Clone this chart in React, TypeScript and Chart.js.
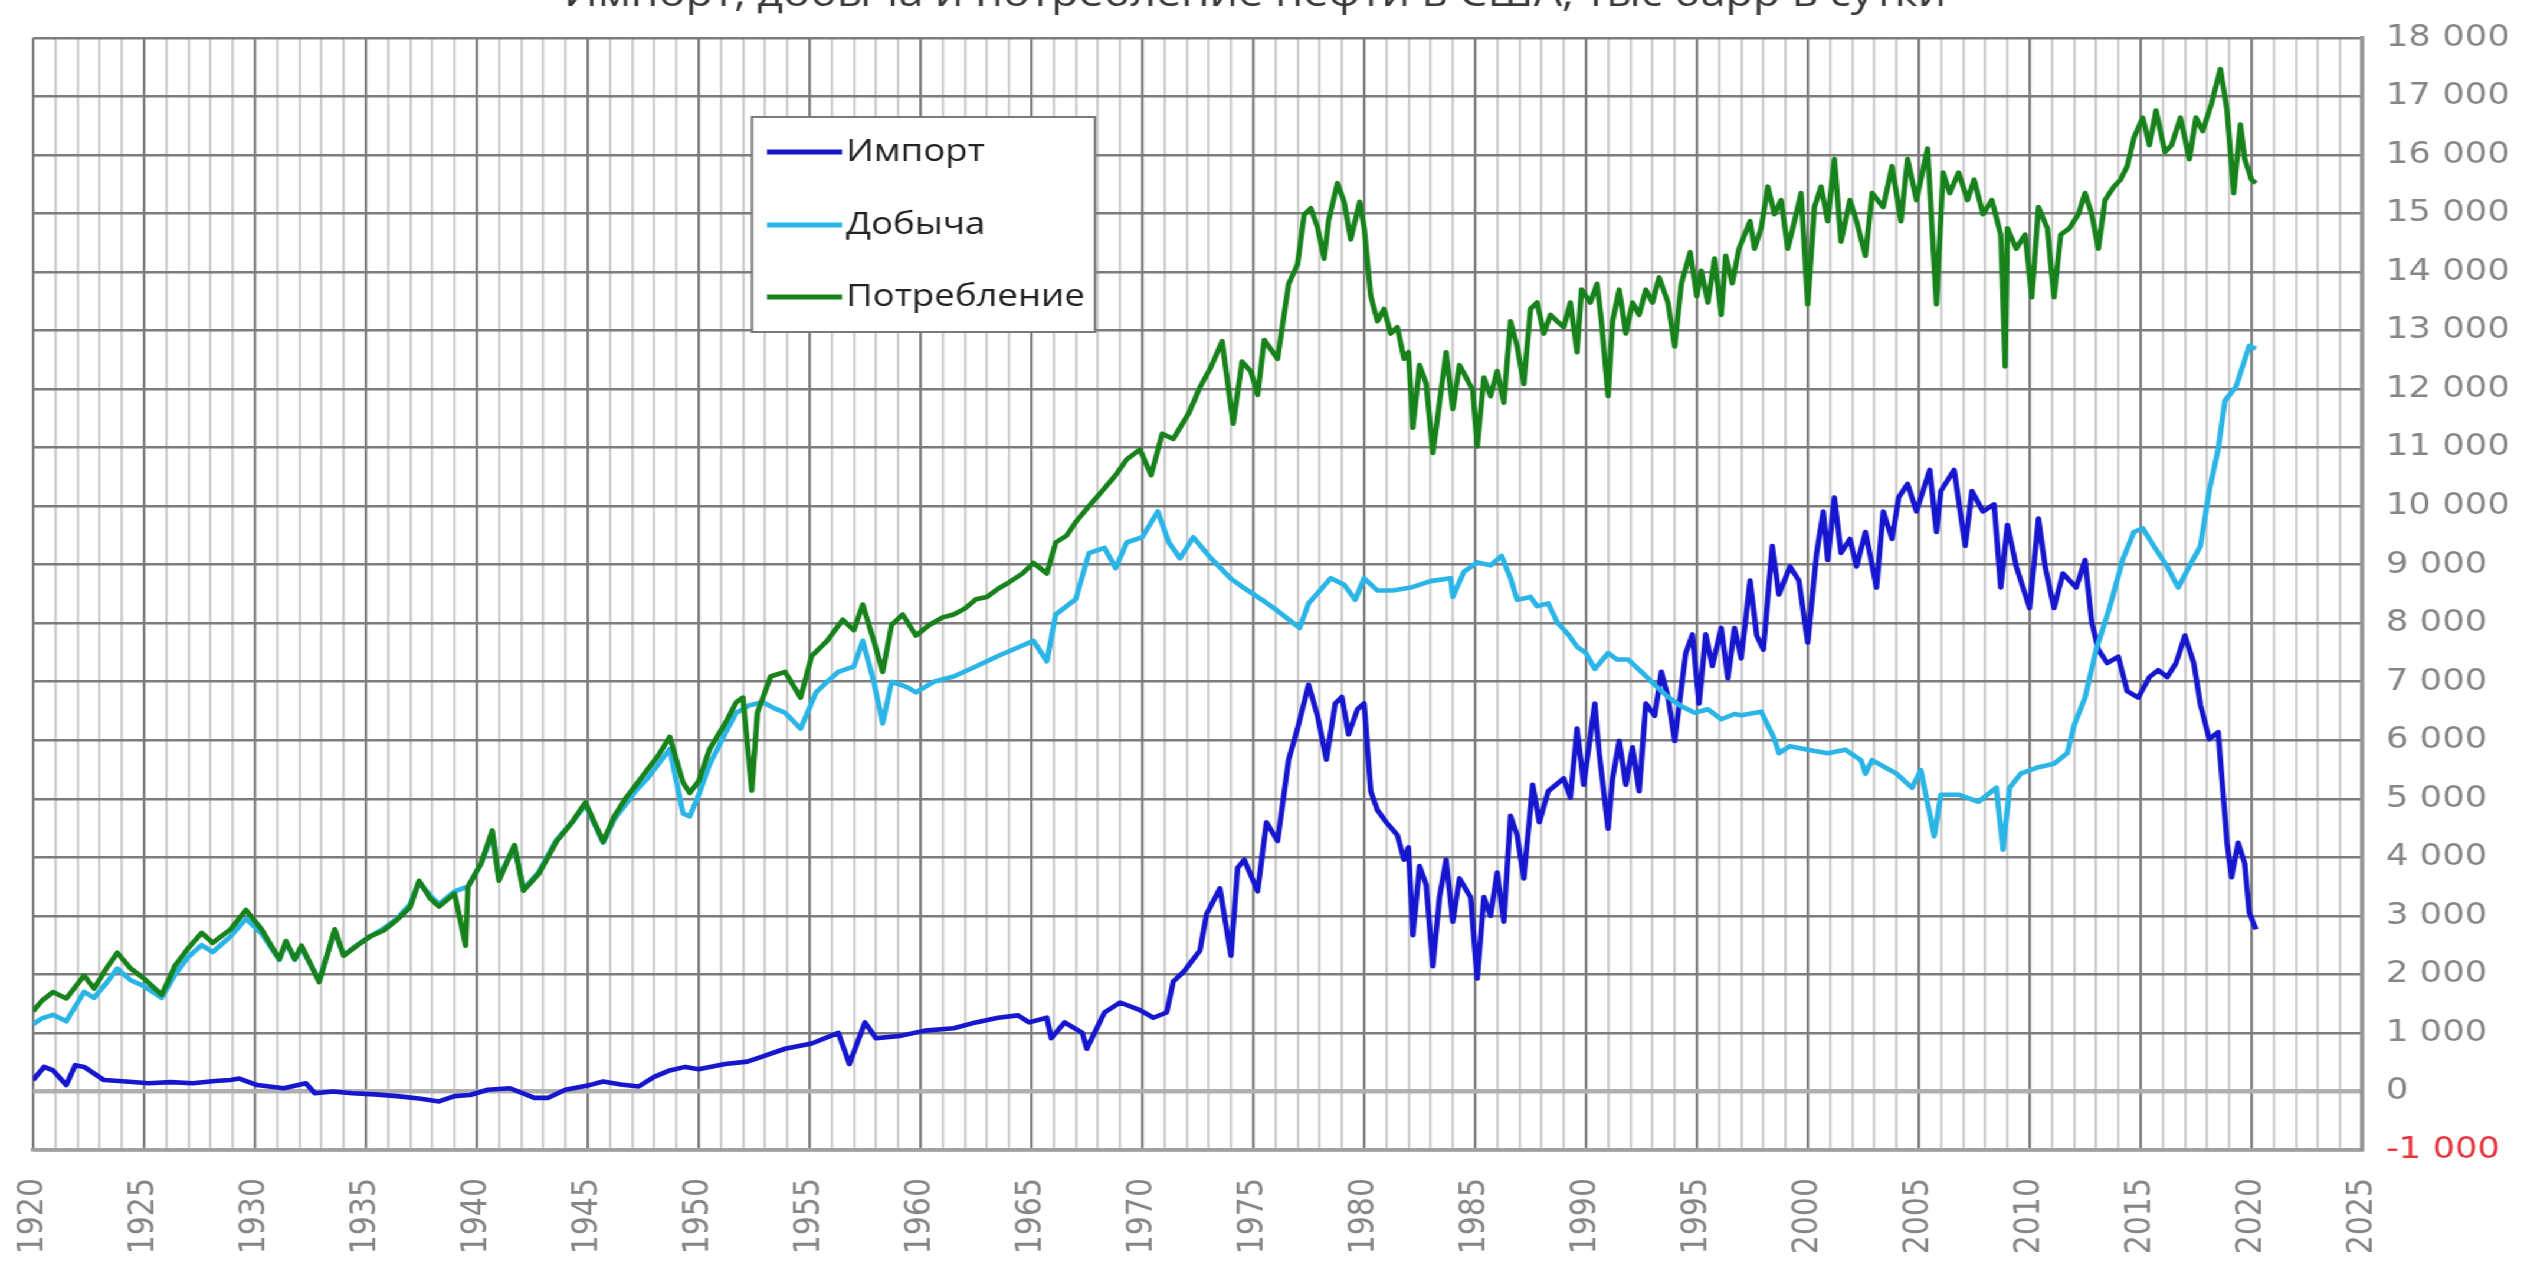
import React, { useEffect, useRef } from 'react';
import { Chart, registerables } from 'chart.js';

Chart.register(...registerables);

// ---------- data (year, thousand barrels per day) ----------
const TITLE = 'Импорт, добыча и потребление нефти в США, тыс барр в сутки';
const SERIES_NAMES = ['Импорт', 'Добыча', 'Потребление'];
const SERIES_COLORS = ['#1616cf', '#2bb5e6', '#17821b'];

const importData: [number, number][] = [
  [1920.0, 195], [1920.5, 420], [1920.9, 360], [1921.5, 110], [1921.9, 450], [1922.3, 420],
  [1923.2, 195], [1924.2, 170], [1925.2, 140], [1926.2, 160], [1927.2, 140], [1928.2, 180],
  [1928.9, 195], [1929.3, 220], [1930.1, 110], [1931.3, 55], [1932.3, 140], [1932.7, -30],
  [1933.5, 0], [1934.4, -30], [1935.4, -50], [1936.4, -80], [1937.4, -120], [1938.3, -170],
  [1939.0, -80], [1939.7, -60], [1940.5, 30], [1941.5, 55], [1942.6, -110], [1943.2, -110],
  [1944.0, 30], [1945.0, 100], [1945.7, 170], [1946.5, 120], [1947.3, 85], [1948.0, 250],
  [1948.7, 360], [1949.4, 420], [1950.0, 380], [1951.2, 470], [1952.2, 510], [1952.9, 600],
  [1953.9, 730], [1955.1, 820], [1956.3, 1000], [1956.8, 470], [1957.5, 1180], [1958.0, 910],
  [1959.1, 950], [1960.2, 1040], [1961.5, 1080], [1962.5, 1180], [1963.5, 1260], [1964.4, 1300],
  [1964.9, 1180], [1965.7, 1260], [1965.9, 910], [1966.5, 1180], [1967.3, 1000], [1967.5, 730],
  [1968.3, 1350], [1969.0, 1520], [1969.9, 1390], [1970.5, 1260], [1971.1, 1350], [1971.4, 1880],
  [1971.9, 2060], [1972.6, 2410], [1972.9, 3030], [1973.5, 3470], [1974.0, 2320], [1974.3, 3820],
  [1974.6, 3960], [1975.2, 3420], [1975.6, 4600], [1976.1, 4280], [1976.6, 5670], [1977.0, 6200],
  [1977.5, 6950], [1977.9, 6420], [1978.3, 5670], [1978.7, 6630], [1979.0, 6740], [1979.3, 6100],
  [1979.7, 6530], [1980.0, 6630], [1980.3, 5130], [1980.6, 4810], [1981.0, 4600], [1981.5, 4380],
  [1981.8, 3960], [1982.0, 4170], [1982.2, 2670], [1982.5, 3850], [1982.8, 3530], [1983.1, 2140],
  [1983.4, 3320], [1983.7, 3960], [1984.0, 2900], [1984.3, 3640], [1984.8, 3320], [1985.1, 1930],
  [1985.4, 3320], [1985.7, 3000], [1986.0, 3740], [1986.3, 2900], [1986.6, 4710], [1986.9, 4380],
  [1987.2, 3640], [1987.6, 5240], [1987.9, 4600], [1988.3, 5130], [1989.0, 5350], [1989.3, 5020],
  [1989.6, 6200], [1989.9, 5240], [1990.4, 6630], [1990.6, 5780], [1991.0, 4490], [1991.2, 5350],
  [1991.5, 5990], [1991.8, 5240], [1992.1, 5880], [1992.4, 5130], [1992.7, 6630], [1993.1, 6420],
  [1993.4, 7170], [1993.7, 6740], [1994.0, 5990], [1994.5, 7490], [1994.8, 7810], [1995.1, 6630],
  [1995.4, 7810], [1995.7, 7270], [1996.1, 7920], [1996.4, 7060], [1996.7, 7920], [1997.0, 7400],
  [1997.4, 8730], [1997.7, 7790], [1998.0, 7550], [1998.4, 9320], [1998.7, 8490], [1999.2, 8970],
  [1999.6, 8730], [2000.0, 7670], [2000.4, 9200], [2000.7, 9910], [2000.9, 9080], [2001.2, 10150],
  [2001.5, 9200], [2001.9, 9440], [2002.2, 8970], [2002.6, 9560], [2003.1, 8610], [2003.4, 9910],
  [2003.8, 9440], [2004.1, 10150], [2004.5, 10380], [2004.9, 9910], [2005.5, 10620], [2005.8, 9560],
  [2006.0, 10260], [2006.6, 10620], [2007.1, 9320], [2007.4, 10260], [2007.9, 9910], [2008.4, 10030],
  [2008.7, 8610], [2009.0, 9680], [2009.4, 8970], [2010.0, 8260], [2010.4, 9790], [2010.7, 8970],
  [2011.1, 8260], [2011.5, 8850], [2012.1, 8610], [2012.5, 9080], [2012.8, 8020], [2013.1, 7550],
  [2013.5, 7320], [2014.0, 7430], [2014.4, 6840], [2014.9, 6730], [2015.4, 7080], [2015.8, 7200],
  [2016.2, 7080], [2016.6, 7320], [2017.0, 7790], [2017.4, 7320], [2017.7, 6610], [2018.1, 6020],
  [2018.5, 6140], [2018.9, 4250], [2019.1, 3660], [2019.4, 4250], [2019.7, 3890], [2019.9, 3060],
  [2020.2, 2770],
];

const productionData: [number, number][] = [
  [1920.0, 1150], [1920.4, 1250], [1920.9, 1310], [1921.5, 1200], [1922.3, 1700], [1922.75, 1600],
  [1923.3, 1850], [1923.8, 2100], [1924.4, 1900], [1925.0, 1800], [1925.8, 1600], [1926.4, 2000],
  [1927.0, 2300], [1927.6, 2500], [1928.1, 2380], [1928.9, 2650], [1929.6, 2950], [1930.3, 2700],
  [1931.1, 2250], [1931.4, 2550], [1931.8, 2250], [1932.1, 2450], [1932.9, 1900], [1933.6, 2750],
  [1934.0, 2330], [1934.6, 2500], [1935.2, 2650], [1935.8, 2780], [1936.4, 2950], [1937.0, 3200],
  [1937.4, 3580], [1937.9, 3350], [1938.3, 3200], [1939.0, 3420], [1939.6, 3500], [1940.2, 3900],
  [1940.7, 4400], [1941.0, 3650], [1941.7, 4200], [1942.1, 3450], [1942.8, 3750], [1943.6, 4300],
  [1944.3, 4600], [1944.9, 4900], [1945.7, 4250], [1946.2, 4650], [1946.7, 4900], [1947.2, 5150],
  [1947.7, 5350], [1948.2, 5600], [1948.7, 5850], [1949.3, 4750], [1949.6, 4700], [1950.0, 5060],
  [1950.5, 5590], [1951.2, 6120], [1951.7, 6470], [1952.3, 6600], [1952.9, 6650], [1953.4, 6550],
  [1953.9, 6470], [1954.6, 6200], [1955.3, 6820], [1955.8, 7000], [1956.3, 7170], [1957.0, 7260],
  [1957.4, 7700], [1957.9, 7000], [1958.3, 6290], [1958.7, 7000], [1959.4, 6910], [1959.8, 6820],
  [1960.6, 7000], [1961.5, 7090], [1962.5, 7260], [1963.5, 7440], [1964.6, 7620], [1965.1, 7700],
  [1965.7, 7350], [1966.1, 8150], [1967.0, 8410], [1967.6, 9200], [1968.3, 9290], [1968.8, 8940],
  [1969.3, 9380], [1970.0, 9470], [1970.7, 9910], [1971.2, 9380], [1971.7, 9110], [1972.3, 9470],
  [1973.1, 9110], [1974.0, 8760], [1974.6, 8600], [1975.4, 8400], [1976.0, 8240], [1977.1, 7920],
  [1977.5, 8340], [1978.5, 8770], [1979.1, 8660], [1979.6, 8400], [1980.0, 8770], [1980.6, 8560],
  [1981.3, 8560], [1982.1, 8610], [1983.0, 8720], [1983.9, 8770], [1984.0, 8450], [1984.5, 8880],
  [1985.1, 9040], [1985.7, 8990], [1986.2, 9150], [1986.6, 8770], [1986.9, 8400], [1987.5, 8450],
  [1987.8, 8290], [1988.3, 8340], [1988.7, 8020], [1989.2, 7810], [1989.6, 7600], [1990.0, 7490],
  [1990.4, 7220], [1991.0, 7490], [1991.4, 7380], [1991.9, 7380], [1992.5, 7170], [1993.1, 6950],
  [1993.7, 6740], [1994.3, 6580], [1994.9, 6470], [1995.5, 6530], [1996.1, 6360], [1996.7, 6450],
  [1997.0, 6430], [1997.9, 6490], [1998.5, 6020], [1998.7, 5780], [1999.2, 5900], [2000.0, 5840],
  [2000.9, 5780], [2001.7, 5840], [2002.4, 5660], [2002.6, 5430], [2002.9, 5660], [2004.0, 5430],
  [2004.7, 5190], [2005.1, 5490], [2005.7, 4360], [2006.0, 5070], [2006.8, 5070], [2007.7, 4950],
  [2008.5, 5190], [2008.8, 4130], [2009.1, 5190], [2009.6, 5430], [2010.4, 5540], [2011.1, 5600],
  [2011.7, 5780], [2012.0, 6250], [2012.5, 6730], [2013.0, 7550], [2013.6, 8260], [2014.2, 9090],
  [2014.7, 9560], [2015.1, 9620], [2015.6, 9320], [2016.2, 8970], [2016.7, 8610], [2017.2, 8970],
  [2017.7, 9320], [2018.1, 10270], [2018.5, 10970], [2018.8, 11800], [2019.3, 12040], [2019.6, 12390],
  [2019.9, 12740], [2020.2, 12690],
];

const consumptionData: [number, number][] = [
  [1920.0, 1370], [1920.4, 1550], [1920.9, 1700], [1921.5, 1590], [1922.3, 1980], [1922.75, 1760],
  [1923.3, 2100], [1923.8, 2370], [1924.4, 2100], [1925.0, 1930], [1925.8, 1650], [1926.4, 2150],
  [1927.0, 2450], [1927.6, 2710], [1928.1, 2540], [1928.9, 2770], [1929.6, 3100], [1930.3, 2770],
  [1931.1, 2260], [1931.4, 2570], [1931.8, 2260], [1932.1, 2490], [1932.9, 1870], [1933.6, 2770],
  [1934.0, 2320], [1934.6, 2490], [1935.2, 2650], [1935.8, 2750], [1936.4, 2930], [1937.0, 3150],
  [1937.4, 3600], [1937.9, 3300], [1938.3, 3160], [1939.0, 3380], [1939.5, 2490], [1939.6, 3490],
  [1940.2, 3900], [1940.7, 4460], [1941.0, 3600], [1941.7, 4210], [1942.1, 3430], [1942.8, 3720],
  [1943.6, 4270], [1944.3, 4600], [1944.9, 4940], [1945.7, 4270], [1946.2, 4700], [1946.7, 5000],
  [1947.2, 5250], [1947.7, 5500], [1948.2, 5750], [1948.7, 6060], [1949.3, 5280], [1949.6, 5100],
  [1950.0, 5300], [1950.5, 5850], [1951.2, 6290], [1951.7, 6650], [1952.0, 6730], [1952.4, 5140],
  [1952.65, 6470], [1953.25, 7090], [1953.9, 7170], [1954.6, 6730], [1955.1, 7440], [1955.8, 7700],
  [1956.5, 8060], [1957.0, 7880], [1957.4, 8320], [1957.9, 7700], [1958.3, 7170], [1958.7, 7970],
  [1959.2, 8150], [1959.8, 7790], [1960.4, 7970], [1961.0, 8100], [1961.5, 8150], [1962.0, 8250],
  [1962.5, 8410], [1963.0, 8450], [1963.5, 8590], [1964.0, 8700], [1964.6, 8850], [1965.1, 9030],
  [1965.7, 8850], [1966.1, 9380], [1966.6, 9500], [1967.0, 9730], [1967.6, 10000], [1968.2, 10260],
  [1968.8, 10530], [1969.3, 10800], [1969.9, 10970], [1970.4, 10530], [1970.9, 11240], [1971.4, 11150],
  [1972.1, 11590], [1972.6, 12030], [1973.1, 12380], [1973.6, 12820], [1974.1, 11410], [1974.5, 12470],
  [1974.9, 12300], [1975.2, 11900], [1975.5, 12840], [1976.1, 12520], [1976.6, 13800], [1977.0, 14130],
  [1977.3, 14980], [1977.6, 15090], [1977.9, 14770], [1978.2, 14230], [1978.4, 14880], [1978.8, 15520],
  [1979.1, 15200], [1979.4, 14560], [1979.8, 15200], [1980.0, 14770], [1980.3, 13590], [1980.6, 13160],
  [1980.9, 13370], [1981.2, 12950], [1981.5, 13060], [1981.8, 12520], [1982.0, 12630], [1982.2, 11340],
  [1982.5, 12410], [1982.8, 12090], [1983.1, 10910], [1983.4, 11770], [1983.7, 12630], [1984.0, 11660],
  [1984.3, 12410], [1984.6, 12200], [1984.9, 11980], [1985.1, 11020], [1985.4, 12200], [1985.7, 11880],
  [1986.0, 12310], [1986.3, 11770], [1986.6, 13160], [1986.9, 12730], [1987.2, 12090], [1987.5, 13370],
  [1987.8, 13480], [1988.1, 12950], [1988.4, 13270], [1988.7, 13160], [1989.0, 13060], [1989.3, 13480],
  [1989.6, 12630], [1989.8, 13700], [1990.2, 13480], [1990.5, 13800], [1990.7, 13160], [1991.0, 11880],
  [1991.2, 13160], [1991.5, 13700], [1991.8, 12950], [1992.1, 13480], [1992.4, 13270], [1992.7, 13700],
  [1993.0, 13480], [1993.3, 13910], [1993.7, 13480], [1994.0, 12730], [1994.3, 13800], [1994.7, 14340],
  [1995.0, 13590], [1995.2, 14020], [1995.5, 13480], [1995.8, 14230], [1996.1, 13270], [1996.3, 14280],
  [1996.6, 13810], [1996.9, 14400], [1997.4, 14870], [1997.6, 14400], [1997.9, 14750], [1998.2, 15460],
  [1998.5, 14990], [1998.8, 15230], [1999.1, 14400], [1999.4, 14870], [1999.7, 15350], [2000.0, 13450],
  [2000.3, 15110], [2000.6, 15460], [2000.9, 14870], [2001.2, 15930], [2001.5, 14520], [2001.9, 15230],
  [2002.2, 14870], [2002.6, 14280], [2002.9, 15350], [2003.4, 15110], [2003.8, 15810], [2004.2, 14870],
  [2004.5, 15930], [2004.9, 15230], [2005.4, 16110], [2005.8, 13450], [2006.1, 15700], [2006.4, 15350],
  [2006.8, 15700], [2007.2, 15230], [2007.5, 15580], [2007.9, 14990], [2008.3, 15230], [2008.7, 14640],
  [2008.9, 12390], [2009.0, 14750], [2009.4, 14400], [2009.8, 14640], [2010.1, 13570], [2010.4, 15110],
  [2010.8, 14750], [2011.1, 13570], [2011.4, 14640], [2011.8, 14750], [2012.2, 14990], [2012.5, 15350],
  [2012.8, 14990], [2013.1, 14400], [2013.4, 15230], [2013.8, 15460], [2014.1, 15580], [2014.4, 15810],
  [2014.7, 16290], [2015.1, 16640], [2015.4, 16170], [2015.7, 16760], [2016.1, 16050], [2016.4, 16170],
  [2016.8, 16640], [2017.2, 15930], [2017.5, 16640], [2017.8, 16410], [2018.2, 16880], [2018.6, 17470],
  [2018.9, 16760], [2019.2, 15350], [2019.5, 16520], [2019.7, 15930], [2020.0, 15580], [2020.2, 15520],
];

const X_MIN = 1920;
const X_MAX = 2025;
const Y_MIN = -1000;
const Y_MAX = 18000;

// ---------- layout ----------
const S = 1.18; // horizontal stretch of the whole picture
const W = Math.round(2524 / S);
const H = 1263;

const fmt = (v: number) => {
  const s = String(Math.abs(v)).replace(/\B(?=(\d{3})+(?!\d))/g, ' ');
  return (v < 0 ? '-' : '') + s;
};

const overlayPlugin = {
  id: 'overlay',
  afterDraw(chart: any) {
    const ctx = chart.ctx as CanvasRenderingContext2D;
    ctx.save();
    // cut-off title
    ctx.font = '38px "Open Sans"';
    ctx.fillStyle = '#3a3a3a';
    ctx.textAlign = 'center';
    ctx.textBaseline = 'alphabetic';
    ctx.fillText(TITLE, 1255 / S, 6);

    // legend box
    const bx = 752 / S, by = 117, bw = (1095 - 752) / S, bh = 215;
    ctx.fillStyle = '#ffffff';
    ctx.fillRect(bx, by, bw, bh);
    ctx.strokeStyle = '#7a7a7a';
    ctx.lineWidth = 2;
    ctx.strokeRect(bx, by, bw, bh);
    const rows = [152, 225, 297];
    ctx.font = '31px "Open Sans"';
    ctx.textAlign = 'left';
    ctx.textBaseline = 'middle';
    SERIES_NAMES.forEach((name, i) => {
      ctx.strokeStyle = SERIES_COLORS[i];
      ctx.lineWidth = 5;
      ctx.beginPath();
      ctx.moveTo(767 / S, rows[i]);
      ctx.lineTo(842 / S, rows[i]);
      ctx.stroke();
      ctx.fillStyle = '#222222';
      ctx.fillText(name, 846 / S, rows[i]);
    });
    ctx.restore();
  },
};

export default function App() {
  const ref = useRef<HTMLCanvasElement | null>(null);

  useEffect(() => {
    if (!ref.current) return;
    document.body.style.margin = '0';
    const toPts = (arr: [number, number][]) => arr.map(([x, y]) => ({ x, y }));
    const chart = new Chart(ref.current, {
      type: 'line',
      data: {
        datasets: [
          { label: SERIES_NAMES[0], data: toPts(importData), borderColor: SERIES_COLORS[0], order: 3 },
          { label: SERIES_NAMES[1], data: toPts(productionData), borderColor: SERIES_COLORS[1], order: 2 },
          { label: SERIES_NAMES[2], data: toPts(consumptionData), borderColor: SERIES_COLORS[2], order: 1 },
        ].map((d) => ({
          ...d,
          borderWidth: 4.6,
          pointRadius: 0,
          tension: 0,
          fill: false,
          borderJoinStyle: 'round' as const,
        })),
      },
      options: {
        responsive: false,
        maintainAspectRatio: false,
        animation: false,
        devicePixelRatio: 1,
        events: [],
        layout: { padding: { left: 17, top: 25, right: 0, bottom: 0 } },
        plugins: { legend: { display: false }, tooltip: { enabled: false }, title: { display: false } },
        scales: {
          x: {
            type: 'linear',
            position: 'bottom',
            min: X_MIN,
            max: X_MAX,
            afterFit: (s: any) => { s.height = 113; },
            ticks: {
              stepSize: 1,
              autoSkip: false,
              maxTicksLimit: 500,
              minRotation: 90,
              maxRotation: 90,
              padding: 28,
              color: '#858585',
              font: { family: 'DejaVu Sans', size: 30 },
              callback: (v: any) => (Number(v) % 5 === 0 ? String(v) : ''),
            },
            grid: {
              drawTicks: false,
              color: (c: any) => (c.tick && c.tick.value % 5 === 0 ? '#7c7c7c' : '#cdcdcd'),
              lineWidth: 2.2,
            },
            border: { display: true, color: '#a0a0a0', width: 3.5 },
          },
          y: {
            type: 'linear',
            position: 'right',
            min: Y_MIN,
            max: Y_MAX,
            afterFit: (s: any) => { s.width = 137; },
            ticks: {
              stepSize: 1000,
              padding: 20,
              color: (c: any) => (c.tick && c.tick.value < 0 ? '#e5343c' : '#858585'),
              font: { family: 'DejaVu Sans', size: 30 },
              callback: (v: any) => fmt(Number(v)),
            },
            grid: {
              drawTicks: false,
              color: (c: any) => (c.tick && c.tick.value === 0 ? '#b0b0b0' : '#7c7c7c'),
              lineWidth: (c: any) => (c.tick && c.tick.value === 0 ? 4.5 : 2.6),
            },
            border: { display: true, color: '#959595', width: 3.5 },
          },
        },
      },
      plugins: [overlayPlugin],
    } as any);
    return () => chart.destroy();
  }, []);

  return (
    <div
      style={{
        position: 'fixed',
        left: 0,
        top: 0,
        width: W,
        height: H,
        transform: `scaleX(${S})`,
        transformOrigin: '0 0',
        background: '#ffffff',
      }}
    >
      <canvas ref={ref} width={W} height={H} style={{ width: W, height: H, display: 'block' }} />
    </div>
  );
}
